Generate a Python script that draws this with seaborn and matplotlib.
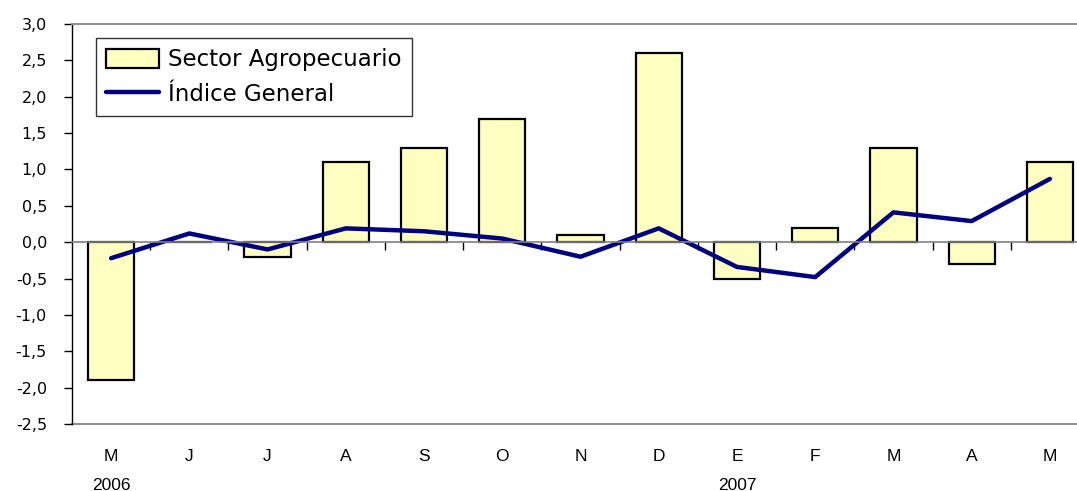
import matplotlib
matplotlib.use("Agg")
import matplotlib.pyplot as plt
import seaborn as sns
import pandas as pd
import numpy as np
from matplotlib.ticker import FuncFormatter, FixedLocator

months = ["M", "J", "J", "A", "S", "O", "N", "D", "E", "F", "M", "A", "M"]
years = ["2006", "", "", "", "", "", "", "", "2007", "", "", "", ""]
agro = [-1.9, 0.0, -0.2, 1.1, 1.3, 1.7, 0.1, 2.6, -0.5, 0.2, 1.3, -0.3, 1.1]
general = [-0.22, 0.12, -0.10, 0.19, 0.15, 0.05, -0.20, 0.19, -0.34, -0.48, 0.41, 0.29, 0.87]

df = pd.DataFrame({"idx": np.arange(len(months)), "agro": agro, "general": general})

sns.set_theme(style="white")
plt.rcParams["font.family"] = ["DejaVu Sans"]
plt.rcParams["text.color"] = "black"
plt.rcParams["xtick.color"] = "black"
plt.rcParams["ytick.color"] = "black"

fig = plt.figure(figsize=(10.77, 4.91), dpi=100)
ax = fig.add_axes([72/1077, 1 - 424/491, 1017/1077, 400/491])

sns.barplot(data=df, x="idx", y="agro", color="#FFFFC0", edgecolor="black",
            linewidth=1.6, width=0.59, saturation=1, ax=ax, label="Sector Agropecuario")
sns.lineplot(data=df, x="idx", y="general", color="#000080", linewidth=3.2, ax=ax,
             label="Índice General")

ax.set_xlim(-0.5, len(months) - 0.5)
ax.set_ylim(-2.5, 3.0)
ax.set_xlabel("")
ax.set_ylabel("")

# y axis
ax.set_yticks(np.arange(-2.5, 3.01, 0.5))
ax.yaxis.set_major_formatter(FuncFormatter(lambda v, p: f"{v:.1f}".replace(".", ",")))
ax.tick_params(axis="y", direction="out", length=6, width=1, color="black",
               labelsize=11.5, pad=12, left=True, labelcolor="black")

# zero axis with boundary ticks
ax.spines["bottom"].set_position(("data", 0))
ax.spines["bottom"].set_color("#808080")
ax.spines["bottom"].set_linewidth(1.2)
ax.xaxis.set_major_locator(FixedLocator(np.arange(0.5, len(months) - 0.5, 1)))
ax.tick_params(axis="x", direction="out", length=6, width=1, color="black",
               bottom=True, labelbottom=False)
ax.spines["left"].set_color("black")
ax.spines["left"].set_linewidth(1.0)
ax.spines["top"].set_color("#909090")
ax.spines["top"].set_linewidth(1.5)
ax.spines["right"].set_visible(False)

# bottom category axis
sec = ax.secondary_xaxis("bottom")
sec.set_xticks(np.arange(len(months)))
sec.set_xticklabels([m if not y else f"{m}\n{y}" for m, y in zip(months, years)],
                    fontsize=12.5, fontfamily="Liberation Sans", linespacing=2.15,
                    va="top", color="black")
sec.tick_params(length=0, pad=18)
sec.spines["bottom"].set_color("#909090")
sec.spines["bottom"].set_linewidth(1.5)

handles, labels = ax.get_legend_handles_labels()
order = [labels.index("Sector Agropecuario"), labels.index("Índice General")]
leg = ax.legend([handles[i] for i in order], [labels[i] for i in order],
                loc="upper left", bbox_to_anchor=(24/1017, 1 - 14/400),
                frameon=True, fancybox=False, edgecolor="black", fontsize=16.5,
                handlelength=2.3, handleheight=0.9, handletextpad=0.4,
                borderpad=0.45, labelspacing=0.5, borderaxespad=0,
                labelcolor="black")
leg.get_frame().set_linewidth(1.0)

fig.savefig("out.png", dpi=100)
